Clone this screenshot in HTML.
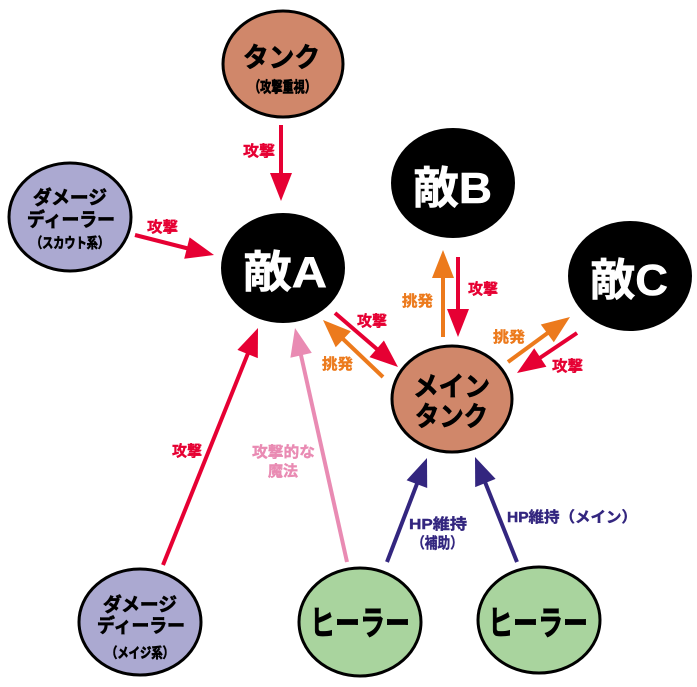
<!DOCTYPE html>
<html><head><meta charset="utf-8"><style>
html,body{margin:0;padding:0;background:#fff;}
svg{display:block;}
text{font-family:"Liberation Sans","Noto Sans CJK JP",sans-serif;font-weight:bold;}
</style></head><body>
<svg width="697" height="687" viewBox="0 0 697 687" xmlns="http://www.w3.org/2000/svg">
<rect width="697" height="687" fill="#fff"/>
<!-- ellipses -->
<g stroke="#000" stroke-width="3">
<ellipse cx="283" cy="64" rx="60" ry="53" fill="#d0876a"/>
<ellipse cx="70" cy="217" rx="61" ry="54" fill="#aba9d1"/>
<ellipse cx="452" cy="399" rx="60" ry="53" fill="#d0876a"/>
<ellipse cx="140" cy="622" rx="61" ry="53" fill="#aba9d1"/>
<ellipse cx="360" cy="622" rx="61" ry="54" fill="#a9d49e"/>
<ellipse cx="539" cy="620" rx="61" ry="53" fill="#a9d49e"/>
</g>
<ellipse cx="283" cy="268" rx="62" ry="55" fill="#000"/>
<ellipse cx="453" cy="183" rx="62" ry="55" fill="#000"/>
<ellipse cx="630" cy="276" rx="62" ry="55" fill="#000"/>

<!-- arrows -->
<g stroke-width="4" fill="none">
<line x1="281" y1="125" x2="281" y2="176" stroke="#e60033"/>
<line x1="135" y1="235" x2="188" y2="248.5" stroke="#e60033"/>
<line x1="163" y1="565" x2="248.5" y2="352" stroke="#e60033"/>
<line x1="347" y1="562" x2="300.5" y2="353" stroke="#e98bb3"/>
<line x1="335" y1="313" x2="378" y2="350" stroke="#e60033"/>
<line x1="383" y1="377" x2="342" y2="338" stroke="#ec7a1c"/>
<line x1="443" y1="337" x2="443" y2="276" stroke="#ec7a1c"/>
<line x1="458" y1="257" x2="458" y2="311" stroke="#e60033"/>
<line x1="508" y1="362" x2="549" y2="332" stroke="#ec7a1c"/>
<line x1="577" y1="333" x2="539" y2="358.5" stroke="#e60033"/>
<line x1="387" y1="562" x2="417.6" y2="482.2" stroke="#33267f"/>
<line x1="517" y1="562" x2="484.6" y2="481" stroke="#33267f"/>
</g>
<polygon points="281,201 270,173 292,173" fill="#e60033"/>
<polygon points="214,255 184.2,258.8 189.6,237.4" fill="#e60033"/>
<polygon points="258,328 257.8,358.1 237.4,349.9" fill="#e60033"/>
<polygon points="295,328 311.8,352.9 290.4,357.7" fill="#e98bb3"/>
<polygon points="398,367 369.5,357.1 383.9,340.5" fill="#e60033"/>
<polygon points="323,320 350.9,331.3 335.7,347.3" fill="#ec7a1c"/>
<polygon points="443,250 432,278 454,278" fill="#ec7a1c"/>
<polygon points="458,337 447,309 469,309" fill="#e60033"/>
<polygon points="570,317 553.8,342.3 540.8,324.5" fill="#ec7a1c"/>
<polygon points="517,373 534.2,348.3 546.4,366.7" fill="#e60033"/>
<polygon points="427,458 427.2,488 406.6,480.2" fill="#33267f"/>
<polygon points="475,457 495.6,478.9 475.2,487.1" fill="#33267f"/>

<!-- node texts -->
<g fill="#000" stroke="#000" stroke-width="0.7">
<text x="243" y="67" font-size="27" textLength="77" lengthAdjust="spacingAndGlyphs">タンク</text>
<text x="249" y="92" font-size="15" textLength="67" lengthAdjust="spacingAndGlyphs">（攻撃重視）</text>
<text x="33" y="204" font-size="19" textLength="74" lengthAdjust="spacingAndGlyphs">ダメージ</text>
<text x="27" y="226" font-size="19" textLength="88" lengthAdjust="spacingAndGlyphs">ディーラー</text>
<text x="31" y="248" font-size="14" textLength="78" lengthAdjust="spacingAndGlyphs">（スカウト系）</text>
<text x="103" y="611" font-size="19" textLength="74" lengthAdjust="spacingAndGlyphs">ダメージ</text>
<text x="97" y="632" font-size="19" textLength="88" lengthAdjust="spacingAndGlyphs">ディーラー</text>
<text x="106" y="658" font-size="14" textLength="68" lengthAdjust="spacingAndGlyphs">（メイジ系）</text>
<text x="413" y="396" font-size="27" textLength="77" lengthAdjust="spacingAndGlyphs">メイン</text>
<text x="415" y="426" font-size="27" textLength="73" lengthAdjust="spacingAndGlyphs">タンク</text>
<text x="310" y="635" font-size="34" textLength="100" lengthAdjust="spacingAndGlyphs">ヒーラー</text>
<text x="488" y="635" font-size="34" textLength="100" lengthAdjust="spacingAndGlyphs">ヒーラー</text>
</g>
<g fill="#fff" stroke="#fff" stroke-width="0.6">
<text x="243" y="287" font-size="44" textLength="84" lengthAdjust="spacingAndGlyphs">敵A</text>
<text x="413" y="203" font-size="44" textLength="79" lengthAdjust="spacingAndGlyphs">敵B</text>
<text x="590" y="295" font-size="44" textLength="78" lengthAdjust="spacingAndGlyphs">敵C</text>
</g>

<!-- labels -->
<g font-size="15" stroke-width="0.4">
<text x="243" y="156" fill="#e60033" stroke="#e60033" textLength="32" lengthAdjust="spacingAndGlyphs">攻撃</text>
<text x="147" y="232" fill="#e60033" stroke="#e60033" textLength="31" lengthAdjust="spacingAndGlyphs">攻撃</text>
<text x="172" y="456" fill="#e60033" stroke="#e60033" textLength="30" lengthAdjust="spacingAndGlyphs">攻撃</text>
<text x="252" y="457" fill="#e98bb3" stroke="#e98bb3" textLength="63" lengthAdjust="spacingAndGlyphs">攻撃的な</text>
<text x="268" y="476" fill="#e98bb3" stroke="#e98bb3" textLength="30" lengthAdjust="spacingAndGlyphs">魔法</text>
<text x="357" y="326" fill="#e60033" stroke="#e60033" textLength="30" lengthAdjust="spacingAndGlyphs">攻撃</text>
<text x="322" y="369" fill="#ec7a1c" stroke="#ec7a1c" textLength="31" lengthAdjust="spacingAndGlyphs">挑発</text>
<text x="402" y="306" fill="#ec7a1c" stroke="#ec7a1c" textLength="31" lengthAdjust="spacingAndGlyphs">挑発</text>
<text x="468" y="294" fill="#e60033" stroke="#e60033" textLength="30" lengthAdjust="spacingAndGlyphs">攻撃</text>
<text x="493" y="342" fill="#ec7a1c" stroke="#ec7a1c" textLength="32" lengthAdjust="spacingAndGlyphs">挑発</text>
<text x="552" y="371" fill="#e60033" stroke="#e60033" textLength="31" lengthAdjust="spacingAndGlyphs">攻撃</text>
<text x="409" y="529" fill="#33267f" stroke="#33267f" textLength="58" lengthAdjust="spacingAndGlyphs">HP維持</text>
<text x="412" y="548" fill="#33267f" stroke="#33267f" textLength="51" lengthAdjust="spacingAndGlyphs">（補助）</text>
<text x="507" y="522" fill="#33267f" stroke="#33267f" textLength="130" lengthAdjust="spacingAndGlyphs">HP維持（メイン）</text>
</g>
</svg>
</body></html>
